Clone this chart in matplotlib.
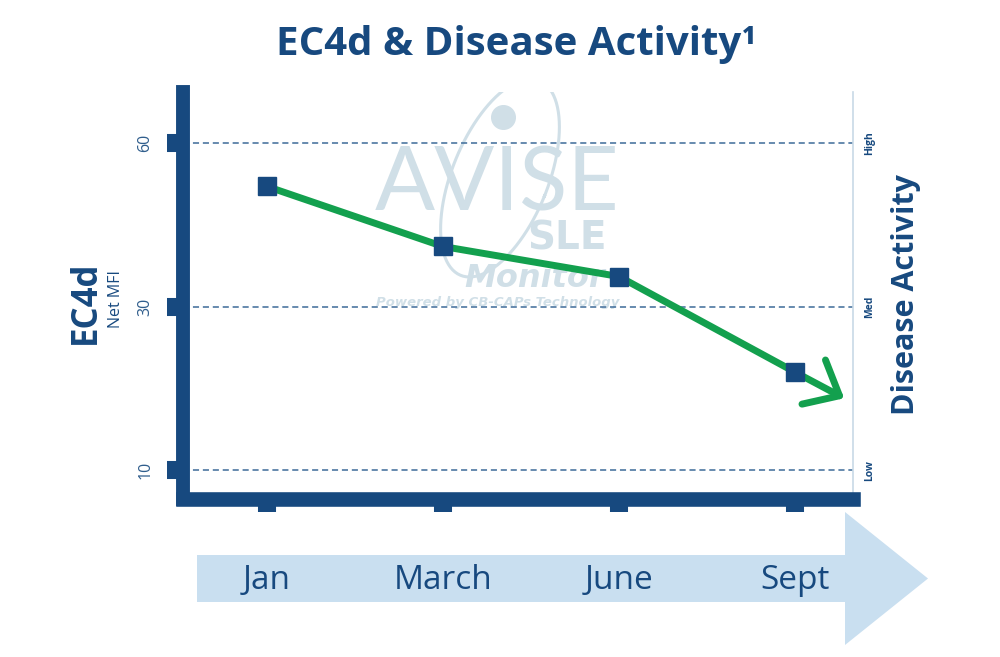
import numpy as np
import matplotlib.pyplot as plt
from matplotlib.patches import Polygon

plt.rcParams["font.family"] = ["Open Sans", "DejaVu Sans"]

months = ["Jan", "March", "June", "Sept"]
ec4d = [52, 41, 35.5, 22]
level_ticks = [10, 30, 60]
level_names = ["Low", "Med", "High"]

navy = "#17497f"
green = "#13a04e"
wm = "#d0dfe7"


# uneven axis: 10-30 and 30-60 get the same height
def fwd(y):
    y = np.asarray(y, float)
    return np.where(y < 30, (y - 30) / 20, (y - 30) / 30)


def inv(t):
    t = np.asarray(t, float)
    return np.where(t < 0, 30 + 20 * t, 30 + 30 * t)


fig = plt.figure(figsize=(10, 6.57), dpi=100)
ax = fig.add_axes([0.183, 0.2405, 0.67, 0.6195])
ax.set_facecolor("none")
ax.set_yscale("function", functions=(fwd, inv))
ax.set_ylim(6.5, 69.3)
x = np.arange(len(months))
ax.set_xlim(-0.477, 3.33)

for s in ["left", "bottom"]:
    ax.spines[s].set_color(navy)
ax.spines["left"].set_linewidth(10)
ax.spines["left"].set_capstyle("projecting")
ax.spines["bottom"].set_linewidth(10.5)
ax.spines["top"].set_visible(False)
ax.spines["right"].set_color("#c8d9e6")
ax.spines["right"].set_linewidth(1.2)

ax.set_yticks(level_ticks, [str(v) for v in level_ticks])
ax.tick_params(axis="y", direction="out", length=11.5, width=13, color=navy,
               labelsize=11.5, labelcolor="#2f5d8c", labelrotation=90, pad=10)
for lab in ax.get_yticklabels():
    lab.set_va("center")
ax.set_xticks(x, months)
ax.tick_params(axis="x", direction="out", length=9.5, width=13, color=navy,
               labelsize=24, labelcolor=navy, pad=37)

for v in level_ticks:
    ax.axhline(v, color="#3d6b99", lw=1.1, ls=(0, (4, 2.5)), zorder=1)

# faint watermark
tr = ax.transAxes
ax.text(0.469, 0.71, "AVISE", transform=tr, fontsize=64, family="Lato",
        color=wm, ha="center", va="baseline", zorder=0.5)
ax.text(0.573, 0.614, "SLE", transform=tr, fontsize=28, family="DejaVu Sans",
        weight="bold", color=wm, ha="center", va="baseline", zorder=0.5)
ax.text(0.525, 0.521, "Monitor", transform=tr, fontsize=23, family="DejaVu Sans",
        weight="bold", style="italic", color=wm, ha="center", va="baseline", zorder=0.5)
ax.text(0.469, 0.474, "Powered by CB-CAPs Technology", transform=tr, fontsize=9.5,
        family="DejaVu Sans", weight="bold", style="italic", color=wm,
        ha="center", va="baseline", zorder=0.5)
th = np.linspace(0, 2 * np.pi, 200)
rot = np.deg2rad(22)
ex, ey = 48 * np.cos(th), 105 * np.sin(th)
px = 500 + ex * np.cos(rot) - ey * np.sin(rot)
py = 178 + ex * np.sin(rot) + ey * np.cos(rot)
ax.plot((px - 183) / 670, (499 - py) / 407, transform=tr, color=wm, lw=2.2, zorder=0.5)
ax.plot(0.478, 0.939, "o", ms=17, color=wm, transform=tr, zorder=0.5)

ax.plot(x, ec4d, color=green, lw=5, zorder=3, solid_capstyle="round")
ax.annotate("", xy=(3.28, 18.8), xytext=(x[-1], ec4d[-1]),
            arrowprops=dict(arrowstyle="->,head_length=0.7,head_width=0.6",
                            color=green, lw=5, mutation_scale=30,
                            shrinkA=0, shrinkB=0), zorder=3)
ax.plot(x, ec4d, "s", ms=13.5, color=navy, zorder=4)

ax2 = ax.twinx()
ax2.set_yscale("function", functions=(fwd, inv))
ax2.set_ylim(ax.get_ylim())
for s in ax2.spines.values():
    s.set_visible(False)
ax2.set_yticks(level_ticks, level_names)
ax2.tick_params(axis="y", length=0, labelsize=7.5, labelcolor=navy,
                labelrotation=90, pad=8)
for lab in ax2.get_yticklabels():
    lab.set_va("center")
    lab.set_fontweight("bold")

fig.text(0.516, 1 - 44 / 657, "EC4d & Disease Activity¹", ha="center", va="center",
         fontsize=29, weight="bold", color=navy)
fig.text(0.086, 1 - 302 / 657, "EC4d", rotation=90, ha="center", va="center",
         fontsize=25, weight="bold", color=navy)
fig.text(0.116, 1 - 299 / 657, "Net MFI", rotation=90, ha="center", va="center",
         fontsize=11.5, color=navy)
fig.text(0.906, 1 - 295 / 657, "Disease Activity", rotation=90, ha="center",
         va="center", fontsize=22, weight="bold", color=navy)

# light blue time arrow under the axis
pts = [(197, 555), (845, 555), (845, 512), (928, 578.5), (845, 645), (845, 602), (197, 602)]
arrow = Polygon([(a / 1000, 1 - b / 657) for a, b in pts], closed=True,
                transform=fig.transFigure, facecolor="#c9dff0", edgecolor="none", zorder=-1)
fig.patches.append(arrow)

fig.savefig("out.png", dpi=100)
